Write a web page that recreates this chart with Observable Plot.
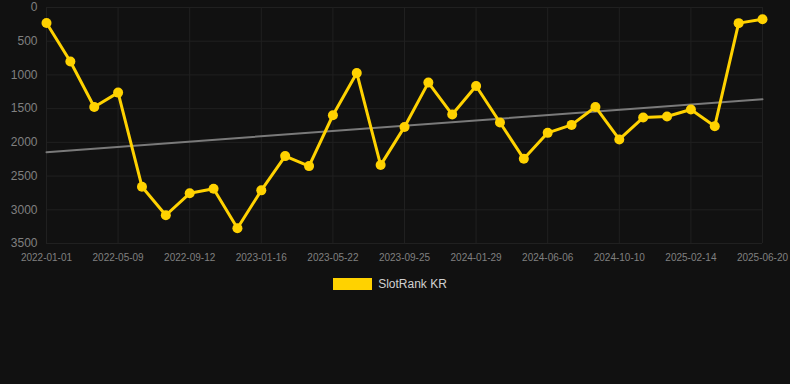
<!DOCTYPE html>
<html>
<head>
<meta charset="utf-8">
<script src="https://cdn.jsdelivr.net/npm/d3@7"></script>
<script src="https://cdn.jsdelivr.net/npm/@observablehq/plot@0.6"></script>
<style>
  html, body { margin: 0; padding: 0; background: #111111; width: 790px; height: 384px; overflow: hidden; }
  #chart svg { display: block; }
  #legend { display: flex; justify-content: center; align-items: center; height: 28px; padding-right: 10px; font-family: "Liberation Sans", Arial, sans-serif; font-size: 12px; color: #d0d0d0; }
  #legend .sw { width: 39px; height: 12px; background: #FFD200; margin-right: 6px; }
</style>
</head>
<body>
<div id="chart"></div>
<div id="legend"><span class="sw"></span><span>SlotRank KR</span></div>
<script>
const dates = [
  "2022-01-01","2022-02-12","2022-03-26","2022-05-09","2022-06-20","2022-08-01",
  "2022-09-12","2022-10-24","2022-12-05","2023-01-16","2023-02-27","2023-04-10",
  "2023-05-22","2023-07-03","2023-08-14","2023-09-25","2023-11-06","2023-12-18",
  "2024-01-29","2024-03-11","2024-04-25","2024-06-06","2024-07-18","2024-08-29",
  "2024-10-10","2024-11-21","2025-01-03","2025-02-14","2025-03-28","2025-05-09",
  "2025-06-20"
];
const ranks = [
  230, 800, 1475, 1262, 2658, 3081, 2756, 2688, 3274, 2712, 2204, 2352,
  1598, 971, 2337, 1771, 1114, 1588, 1164, 1706, 2244, 1859, 1741, 1475,
  1957, 1632, 1617, 1513, 1760, 232, 173
];
const trendEnds = [2145, 1361];
const yTicks = [0, 500, 1000, 1500, 2000, 2500, 3000, 3500];
const xTickIdx = [0, 3, 6, 9, 12, 15, 18, 21, 24, 27, 30];

const data = dates.map((d, i) => ({i, date: d, rank: ranks[i]}));
const trend = [{i: 0, v: trendEnds[0]}, {i: dates.length - 1, v: trendEnds[1]}];

const chart = Plot.plot({
  width: 790,
  height: 270,
  marginTop: 7,
  marginBottom: 27,
  marginLeft: 46,
  marginRight: 28,
  style: { background: "#111111", fontFamily: "Liberation Sans, Arial, sans-serif" },
  x: { type: "linear", domain: [0, dates.length - 1] },
  y: { domain: [0, 3500], reverse: true },
  marks: [
    Plot.gridY(yTicks, { stroke: "#202020", strokeOpacity: 1 }),
    Plot.gridX(xTickIdx, { stroke: "#202020", strokeOpacity: 1 }),
    Plot.axisY({ ticks: yTicks, tickSize: 0, tickPadding: 9, fontSize: 12, fill: "#808080", label: null, tickFormat: d => String(d) }),
    Plot.axisX({ ticks: xTickIdx, tickSize: 0, tickPadding: 10, fontSize: 10, fill: "#808080", label: null, tickFormat: i => dates[i] }),
    Plot.line(trend, { x: "i", y: "v", stroke: "#7a7a7a", strokeWidth: 2 }),
    Plot.line(data, { x: "i", y: "rank", stroke: "#FFD200", strokeWidth: 3 }),
    Plot.dot(data, { x: "i", y: "rank", r: 5, fill: "#FFD200", stroke: "none" })
  ]
});
document.getElementById("chart").appendChild(chart);
</script>
</body>
</html>
